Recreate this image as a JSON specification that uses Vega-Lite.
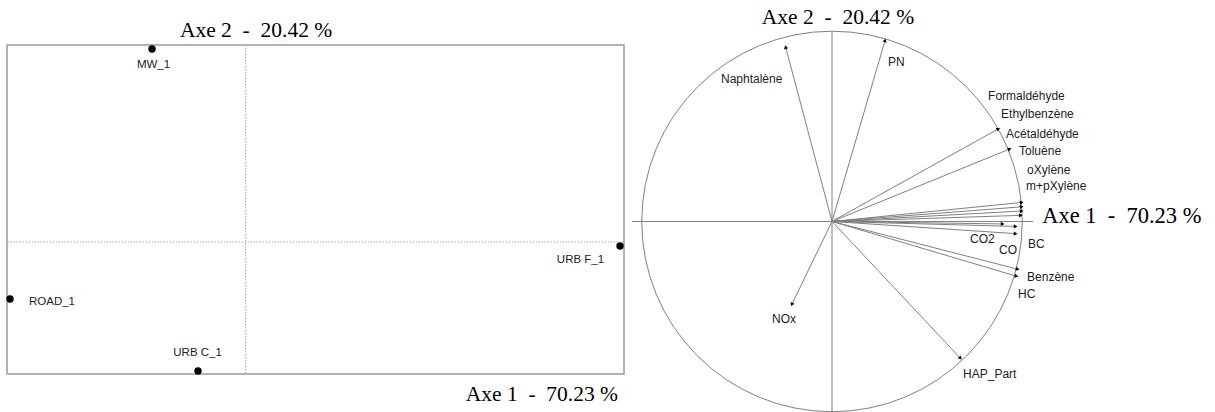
{
  "$schema": "https://vega.github.io/schema/vega-lite/v6.json",
  "padding": {"left": 5, "top": 6, "right": 0, "bottom": 0},
  "autosize": {"type": "pad"},
  "background": "white",
  "spacing": 5.5,
  "bounds": "flush",
  "config": {"view": {"stroke": null}},
  "datasets": {
    "ind": [
      {"name": "MW_1", "dim1": -1.337, "dim2": 2.826, "lx": -1.316, "ly": 2.592},
      {"name": "ROAD_1", "dim1": -3.366, "dim2": -0.835, "lx": -2.766, "ly": -0.874},
      {"name": "URB C_1", "dim1": -0.68, "dim2": -1.889, "lx": -0.686, "ly": -1.625},
      {"name": "URB F_1", "dim1": 5.349, "dim2": -0.059, "lx": 4.784, "ly": -0.264}
    ],
    "var": [
      {"name": "PN", "x": 0.277, "y": 0.952, "lx": 0.293, "ly": 0.842},
      {"name": "Naphtalène", "x": -0.242, "y": 0.917, "lx": -0.581, "ly": 0.752},
      {"name": "Formaldéhyde", "x": 0.868, "y": 0.487, "lx": 0.817, "ly": 0.662},
      {"name": "Ethylbenzène", "x": 0.927, "y": 0.381, "lx": 0.885, "ly": 0.567},
      {"name": "Acétaldéhyde", "x": 0.99, "y": 0.1, "lx": 0.911, "ly": 0.462},
      {"name": "Toluène", "x": 0.99, "y": 0.077, "lx": 0.979, "ly": 0.372},
      {"name": "oXylène", "x": 0.99, "y": 0.055, "lx": 1.021, "ly": 0.272},
      {"name": "m+pXylène", "x": 0.985, "y": 0.032, "lx": 1.016, "ly": 0.187},
      {"name": "CO2", "x": 0.89, "y": -0.013, "lx": 0.723, "ly": -0.092},
      {"name": "CO", "x": 0.958, "y": -0.026, "lx": 0.874, "ly": -0.15},
      {"name": "BC", "x": 0.958, "y": -0.064, "lx": 1.026, "ly": -0.119},
      {"name": "Benzène", "x": 0.969, "y": -0.251, "lx": 1.021, "ly": -0.293},
      {"name": "HC", "x": 0.963, "y": -0.288, "lx": 0.974, "ly": -0.383},
      {"name": "HAP_Part", "x": 0.67, "y": -0.719, "lx": 0.686, "ly": -0.805},
      {"name": "NOx", "x": -0.209, "y": -0.435, "lx": -0.314, "ly": -0.515}
    ]
  },
  "hconcat": [
    {
      "width": 617,
      "height": 329,
      "view": {"stroke": "#9a9a9a", "strokeWidth": 1.5},
      "layer": [
        {
          "data": {"name": "ind"},
          "mark": {"type": "point", "shape": "circle", "filled": true, "size": 55, "color": "black", "opacity": 1},
          "encoding": {
            "x": {"field": "dim1", "type": "quantitative", "scale": {"domain": [-3.409, 5.406], "nice": false, "zero": false}, "axis": null},
            "y": {"field": "dim2", "type": "quantitative", "scale": {"domain": [-1.933, 2.884], "nice": false, "zero": false}, "axis": null}
          }
        },
        {
          "data": {"values": [{}]},
          "mark": {"type": "rule", "color": "#a6a6a6", "strokeDash": [1.5, 1.5], "strokeWidth": 1},
          "encoding": {
            "x": {"datum": 0, "type": "quantitative"}
          }
        },
        {
          "data": {"values": [{}]},
          "mark": {"type": "rule", "color": "#a6a6a6", "strokeDash": [1.5, 1.5], "strokeWidth": 1},
          "encoding": {
            "y": {"datum": 0, "type": "quantitative"}
          }
        },
        {
          "data": {"name": "ind"},
          "mark": {"type": "text", "font": "Liberation Sans", "fontSize": 11.5, "color": "#222222", "align": "center", "baseline": "middle"},
          "encoding": {
            "x": {"field": "lx", "type": "quantitative"},
            "y": {"field": "ly", "type": "quantitative"},
            "text": {"field": "name"}
          }
        },
        {
          "data": {"values": [{}]},
          "mark": {"type": "text", "font": "Liberation Serif", "fontSize": 21.5, "color": "black", "align": "center", "baseline": "alphabetic"},
          "encoding": {
            "x": {"datum": 0.149, "type": "quantitative"},
            "y": {"datum": 3.001, "type": "quantitative"},
            "text": {"value": "Axe 2\u00a0\u00a0-\u00a0\u00a020.42 %"}
          }
        },
        {
          "data": {"values": [{}]},
          "mark": {"type": "text", "font": "Liberation Serif", "fontSize": 21.5, "color": "black", "align": "right", "baseline": "alphabetic"},
          "encoding": {
            "x": {"datum": 5.32, "type": "quantitative"},
            "y": {"datum": -2.328, "type": "quantitative"},
            "text": {"value": "Axe 1\u00a0\u00a0-\u00a0\u00a070.23 %"}
          }
        }
      ]
    },
    {
      "width": 405,
      "height": 366,
      "layer": [
        {
          "data": {"name": "var"},
          "mark": {"type": "rule", "color": "#808080", "strokeWidth": 1},
          "encoding": {
            "x": {"field": "x", "type": "quantitative", "scale": {"domain": [-1.06, 1.06], "nice": false, "zero": false}, "axis": null},
            "y": {"field": "y", "type": "quantitative", "scale": {"domain": [-1.0, 0.931], "nice": false, "zero": false}, "axis": null},
            "x2": {"datum": 0},
            "y2": {"datum": 0}
          }
        },
        {
          "data": {"values": [{}]},
          "mark": {"type": "point", "shape": "circle", "filled": false, "size": 144780, "stroke": "#808080", "strokeWidth": 1, "opacity": 1},
          "encoding": {
            "x": {"datum": 0, "type": "quantitative"},
            "y": {"datum": 0, "type": "quantitative"}
          }
        },
        {
          "data": {"values": [{}]},
          "mark": {"type": "rule", "color": "#808080", "strokeWidth": 1},
          "encoding": {
            "x": {"datum": -1.047, "type": "quantitative"},
            "x2": {"datum": 1.052},
            "y": {"datum": 0, "type": "quantitative"}
          }
        },
        {
          "data": {"values": [{}]},
          "mark": {"type": "rule", "color": "#808080", "strokeWidth": 1},
          "encoding": {
            "x": {"datum": 0, "type": "quantitative"},
            "y": {"datum": -1.01, "type": "quantitative"},
            "y2": {"datum": 1.005}
          }
        },
        {
          "data": {"name": "var"},
          "mark": {"type": "point", "shape": "triangle", "filled": true, "size": 18, "color": "black", "opacity": 1, "angle": {"expr": "atan2(datum.x, datum.y) * 180 / PI"}},
          "encoding": {
            "x": {"field": "x", "type": "quantitative"},
            "y": {"field": "y", "type": "quantitative"}
          }
        },
        {
          "data": {"name": "var"},
          "mark": {"type": "text", "font": "Liberation Sans", "fontSize": 12, "color": "#222222", "align": "left", "baseline": "middle"},
          "encoding": {
            "x": {"field": "lx", "type": "quantitative"},
            "y": {"field": "ly", "type": "quantitative"},
            "text": {"field": "name"}
          }
        },
        {
          "data": {"values": [{}]},
          "mark": {"type": "text", "font": "Liberation Serif", "fontSize": 21.5, "color": "black", "align": "center", "baseline": "alphabetic"},
          "encoding": {
            "x": {"datum": 0.031, "type": "quantitative"},
            "y": {"datum": 1.042, "type": "quantitative"},
            "text": {"value": "Axe 2\u00a0\u00a0-\u00a0\u00a020.42 %"}
          }
        },
        {
          "data": {"values": [{}]},
          "mark": {"type": "text", "font": "Liberation Serif", "fontSize": 22.5, "color": "black", "align": "left", "baseline": "alphabetic"},
          "encoding": {
            "x": {"datum": 1.1, "type": "quantitative"},
            "y": {"datum": -0.008, "type": "quantitative"},
            "text": {"value": "Axe 1\u00a0\u00a0-\u00a0\u00a070.23 %"}
          }
        }
      ]
    }
  ]
}
